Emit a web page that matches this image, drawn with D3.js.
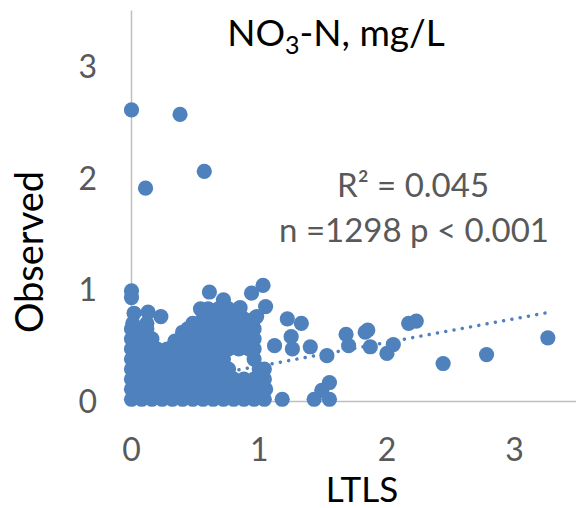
<!DOCTYPE html>
<html>
<head>
<meta charset="utf-8">
<script src="https://cdn.jsdelivr.net/npm/d3@7.9.0/dist/d3.min.js"></script>
<style>
  body { margin: 0; background: #fff; }
  text { font-family: Lato, "Open Sans", sans-serif; }
</style>
</head>
<body>
<svg width="576" height="508"></svg>
<script>
// axis ticks
const xTicks = [0, 1, 2, 3];
const yTicks = [0, 1, 2, 3];

// dense cluster near the origin, read row by row: [observed, LTLS values]
const clusterRows = [
  [0.02, [0, 0.08, 0.16, 0.24, 0.32, 0.40, 0.48, 0.56, 0.64, 0.72, 0.80, 0.88, 0.96, 1.04]],
  [0.11, [0, 0.04, 0.12, 0.20, 0.28, 0.36, 0.44, 0.52, 0.60, 0.68, 0.76, 0.84, 0.92, 1.00, 1.05]],
  [0.20, [0, 0.08, 0.16, 0.24, 0.32, 0.40, 0.48, 0.56, 0.64, 0.72, 0.80, 0.88, 0.96, 1.04]],
  [0.29, [0, 0.04, 0.12, 0.20, 0.28, 0.36, 0.44, 0.52, 0.60, 0.68, 0.76, 1.00, 1.04]],
  [0.38, [0, 0.08, 0.16, 0.24, 0.32, 0.40, 0.48, 0.56, 0.64, 0.72, 0.96]],
  [0.47, [0, 0.04, 0.12, 0.20, 0.28, 0.36, 0.44, 0.52, 0.60, 0.68, 0.76, 0.84, 0.92, 0.96]],
  [0.56, [0, 0.08, 0.16, 0.40, 0.48, 0.56, 0.64, 0.72, 0.80, 0.88, 0.96]],
  [0.65, [0, 0.04, 0.12, 0.44, 0.52, 0.60, 0.68, 0.76, 0.84, 0.92, 0.96]],
  [0.74, [0.56, 0.64, 0.72, 0.80, 0.88, 0.96]],
  [0.83, [0.60, 0.68, 0.76]]
];

// edge of the cluster [LTLS, observed]
const edgePoints = [
  [0.00, 0.99], [0.00, 0.93], [0.02, 0.79], [0.13, 0.80], [0.23, 0.76],
  [0.01, 0.70], [0.12, 0.70], [0.34, 0.54], [0.40, 0.62], [0.48, 0.70],
  [0.54, 0.83], [0.61, 0.98], [0.72, 0.91], [0.85, 0.84], [0.94, 0.97],
  [1.03, 1.04], [1.05, 0.85], [0.98, 0.76]
];
// scattered points [LTLS, observed]
const outliers = [
  [0.00, 2.61], [0.38, 2.57], [0.57, 2.06], [0.11, 1.91],
  [1.12, 0.50], [1.22, 0.74], [1.33, 0.70], [1.25, 0.58], [1.26, 0.47],
  [1.40, 0.49], [1.53, 0.41], [1.68, 0.60], [1.70, 0.50], [1.83, 0.62],
  [1.85, 0.64], [1.87, 0.49], [2.00, 0.43], [2.05, 0.51], [2.17, 0.70],
  [2.23, 0.72], [2.44, 0.34], [2.78, 0.42], [3.26, 0.57],
  [1.18, 0.02], [1.43, 0.02], [1.49, 0.10], [1.55, 0.17], [1.55, 0.02]
];

// linear trendline (intercept, slope) and its x span
const trendCoef = [0.105, 0.212];
const trendSpan = [0, 3.26];

let points = [];
clusterRows.forEach(([yv, xs]) => xs.forEach(xv => points.push([xv, yv])));
points = points.concat(edgePoints, outliers);

const svg = d3.select('svg');

let x = d3.scaleLinear().domain([0, 3.5]).range([131.5, 578.5]);
let y = d3.scaleLinear().domain([0, 3.5]).range([401.5, 10.5]);

// axis lines
svg.append('line')
  .attr('x1', x(0)).attr('x2', x(3.5))
  .attr('y1', y(0)).attr('y2', y(0))
  .attr('stroke', '#bfbfbf').attr('stroke-width', 1.5);
svg.append('line')
  .attr('x1', x(0)).attr('x2', x(0))
  .attr('y1', y(0)).attr('y2', y(3.5))
  .attr('stroke', '#bfbfbf').attr('stroke-width', 1.5);

// tick labels
svg.selectAll('.xt').data(xTicks).join('text')
  .attr('x', d => x(d)).attr('y', 461)
  .attr('text-anchor', 'middle')
  .attr('font-size', 32).attr('fill', '#595959')
  .text(d => d);
svg.selectAll('.yt').data(yTicks).join('text')
  .attr('x', 97).attr('y', d => y(d) + 11.5)
  .attr('text-anchor', 'end')
  .attr('font-size', 32).attr('fill', '#595959')
  .text(d => d);

// trendline (behind the markers)
svg.append('line')
  .attr('x1', x(trendSpan[0])).attr('y1', y(trendCoef[0] + trendCoef[1] * trendSpan[0]))
  .attr('x2', x(trendSpan[1])).attr('y2', y(trendCoef[0] + trendCoef[1] * trendSpan[1]))
  .attr('stroke', '#4f81bd').attr('stroke-width', 3.5)
  .attr('stroke-linecap', 'round').attr('stroke-dasharray', '0.01 8.4');

// markers
svg.append('g').selectAll('circle').data(points).join('circle')
  .attr('cx', d => x(d[0])).attr('cy', d => y(d[1]))
  .attr('r', 7.6).attr('fill', '#4f81bd');

// title
let title = svg.append('text')
  .attr('x', 336).attr('y', 46)
  .attr('text-anchor', 'middle')
  .attr('font-size', 37).attr('fill', '#000');
title.append('tspan').text('NO');
title.append('tspan').attr('font-size', 25).attr('dy', 8).text('3');
title.append('tspan').attr('dy', -8).text('-N, mg/L');

// stats
svg.append('text').attr('x', 413).attr('y', 197)
  .attr('text-anchor', 'middle').attr('font-size', 33).attr('fill', '#595959')
  .text('R² = 0.045');
svg.append('text').attr('x', 414).attr('y', 242)
  .attr('text-anchor', 'middle').attr('font-size', 33).attr('fill', '#595959')
  .text('n =1298 p < 0.001');

// axis titles
svg.append('text')
  .attr('x', 362).attr('y', 502)
  .attr('text-anchor', 'middle').attr('font-size', 35).attr('fill', '#000')
  .text('LTLS');
svg.append('text')
  .attr('transform', 'translate(43,252) rotate(-90)')
  .attr('text-anchor', 'middle').attr('font-size', 38).attr('fill', '#000')
  .text('Observed');
</script>
</body>
</html>
